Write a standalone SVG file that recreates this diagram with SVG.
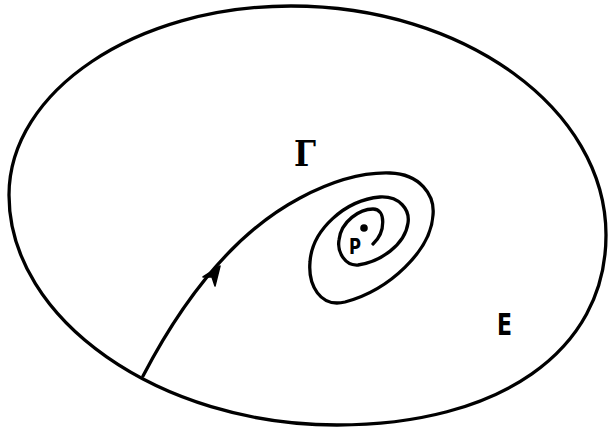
<svg xmlns="http://www.w3.org/2000/svg" width="608" height="428" viewBox="0 0 608 428">
<style>
.ln{fill:none;stroke:#000;stroke-width:3.3;stroke-linecap:round;stroke-linejoin:round}
.lb{font-family:"DejaVu Sans","Liberation Sans",sans-serif;font-weight:bold;fill:#000}
</style>
<rect width="608" height="428" fill="#fff"/>
<g id="region-E">
<path class="ln" d="M291,6 C464,6 606,109 606,235 C606,352 498,425 337,425 C160,425 9,320 9,195 C9,91 136,6 291,6 Z"/>
<text class="lb" x="497" y="335" font-size="30" textLength="15" lengthAdjust="spacingAndGlyphs">E</text>
</g>
<g id="connectors">
<path id="trajectory" class="ln" d="M143,376 C180,305 230,235 300,198 C330,182 360,172 390,173 C420,174 435,195 433,215 C431,250 390,290 345,302 C320,308 308,285 310,262 C312,230 345,200 380,197 C400,196 410,210 408,223 C405,245 380,262 358,265 C345,266 337,252 339,240 C341,221 360,209 373,209 C386,209 386,232 373,244"/>
<polygon points="220,266 215,286 212,277 203,277" fill="#000" stroke="#000" stroke-width="1.5" stroke-linejoin="round"/>
</g>
<g id="label-Gamma">
<text x="294" y="166" font-family="'DejaVu Serif','Liberation Serif',serif" font-weight="bold" font-size="35" textLength="22" lengthAdjust="spacingAndGlyphs">Γ</text>
</g>
<g id="point-P">
<circle cx="364" cy="228" r="3.8" fill="#000"/>
<text class="lb" x="349" y="254" font-size="21" textLength="12" lengthAdjust="spacingAndGlyphs">P</text>
</g>
</svg>
